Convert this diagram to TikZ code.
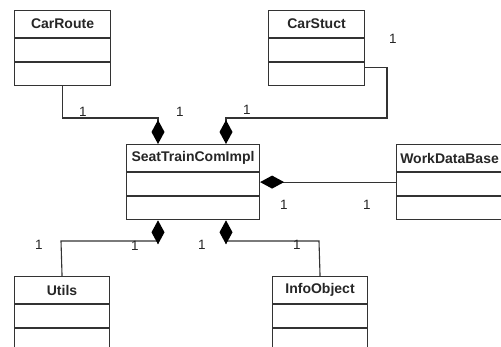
\documentclass[tikz,border=0pt]{standalone}
\usepackage{fontspec}
\setmainfont{Liberation Sans}
\usetikzlibrary{arrows.meta,calc,positioning}

\tikzset{
  x=1pt, y=-1pt,
  umlline/.style={draw=black!80, line width=1.1pt},
  hdr/.style={umlline, anchor=north west, minimum height=27pt, inner sep=0pt,
    font=\fontsize{14}{15}\selectfont\bfseries, text=black!85},
  cell/.style={umlline, anchor=north, minimum height=23pt, inner sep=0pt},
  comp/.style={umlline, line cap=rect},
  dia/.tip={Diamond[length=24pt, width=13pt, fill=black, line width=0pt]},
  mult/.style={font=\fontsize{13.5}{14}\selectfont, text=black!85, inner sep=0pt}
}

% a class box: header with the name, then two empty compartments
\newcommand{\umlbox}[5]{%
  \node[hdr, minimum width=#4] (#1) at (#2,#3) {#5};
  \node[cell, minimum width=#4] (#1-a) at (#1.south) {};
  \node[cell, minimum width=#4] (#1-b) at (#1-a.south) {};
}

\begin{document}
\begin{tikzpicture}
\useasboundingbox (0,0) rectangle (501,347);
\clip (0,0) rectangle (501,347);
\fill[white] (0,0) rectangle (501,347);

\umlbox{CarRoute}{14}{10}{96pt}{CarRoute}
\umlbox{CarStuct}{268}{10}{96pt}{CarStuct}
\umlbox{Seat}{126}{144}{133pt}{SeatTrainComImpl}
\umlbox{WorkDataBase}{396}{144}{106pt}{WorkDataBase}
\umlbox{Utils}{14}{276}{95pt}{Utils}
\umlbox{InfoObject}{272}{276}{95pt}{InfoObject}

% attachment points of the composition diamonds on SeatTrainComImpl
\coordinate (st1) at ($(Seat.north west)+(32,0)$);
\coordinate (st2) at ($(Seat.north west)+(100,0)$);
\coordinate (sb1) at ($(Seat-b.south west)+(32,0)$);
\coordinate (sb2) at ($(Seat-b.south west)+(100,0)$);
\coordinate (se) at ($(Seat-a.north east)+(0,10)$);

% compositions
\draw[comp, -dia] (CarRoute-b.south) |- (158,118) -- (st1);
\draw[comp, -dia] ($(CarStuct-b.north east)+(0,5)$) -| (387,118) -| (st2);
\draw[comp, dia-] (se) -- (se -| WorkDataBase-a.west);
\draw[comp, dia-] (sb1) |- (61,241) -- (Utils.north);
\draw[comp, dia-] (sb2) |- (319,241) -- (InfoObject.north);

% multiplicities
\node[mult] (m1) at (83,112) {1};
\node[mult] (m2) at (180,112) {1};
\node[mult] (m3) at (247,110) {1};
\node[mult] (m4) at (393,39) {1};
\node[mult] (m5) at (284,205) {1};
\node[mult] (m6) at (367,205) {1};
\node[mult] (m7) at (39,245) {1};
\node[mult] (m8) at (135,246) {1};
\node[mult] (m9) at (202,245) {1};
\node[mult] (m10) at (297,245) {1};
\end{tikzpicture}
\end{document}
